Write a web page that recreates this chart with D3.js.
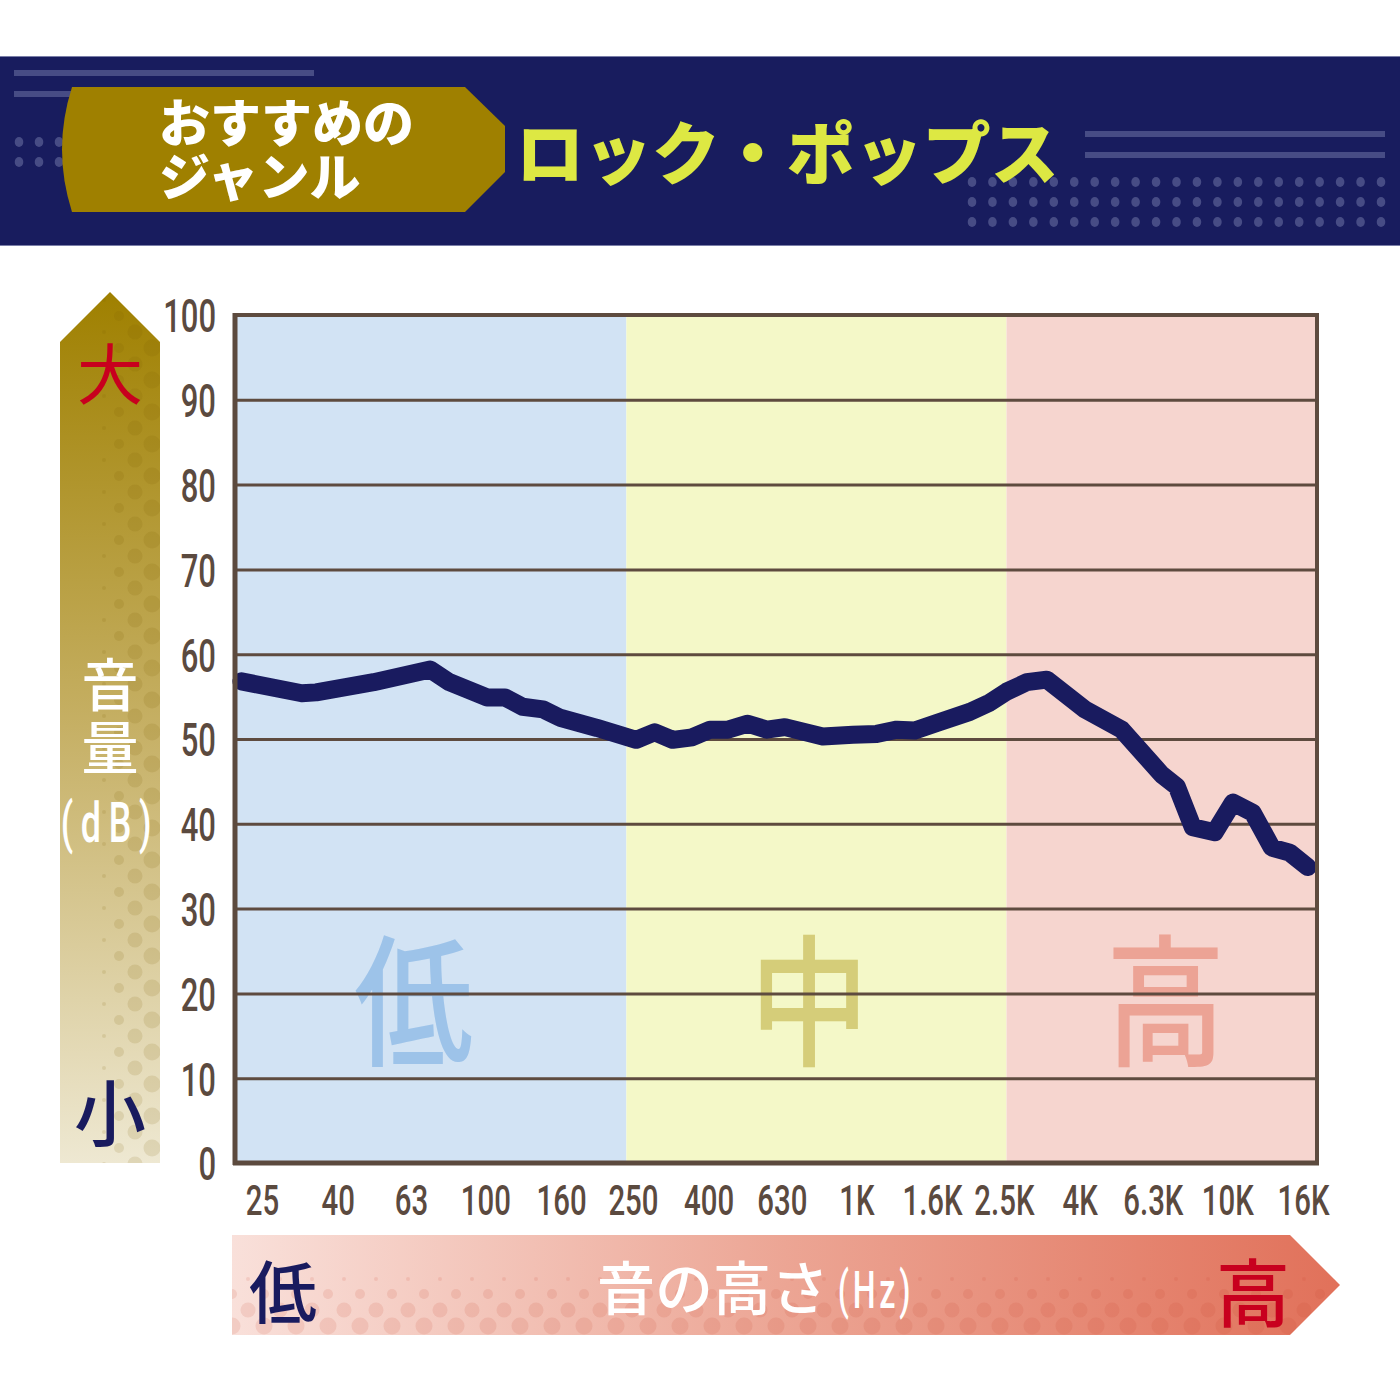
<!DOCTYPE html>
<html>
<head>
<meta charset="utf-8">
<script src="https://cdn.jsdelivr.net/npm/d3@7"></script>
<style>
  body { margin: 0; background: #fff; }
  svg { display: block; }
</style>
</head>
<body>
<div id="chart"></div>
<script>
// Frequency response for rock / pop
const freqHz = [22, 32, 35, 50, 71, 80, 101, 113, 126, 143, 159, 200, 255, 286, 320, 361, 403, 451, 510, 574,
  642, 812, 979, 1135, 1286, 1438, 1648, 2023, 2291, 2546, 2882, 3263, 4130, 5195, 6658, 7310, 8072, 9250,
  10350, 11710, 13180, 14730, 16470];
const levelDb = [56.8, 55.4, 55.5, 56.7, 58.2, 56.7, 54.9, 54.9, 53.8, 53.5, 52.5, 51.3, 49.9, 50.8, 49.9, 50.2,
  51.1, 51.1, 51.8, 51.1, 51.4, 50.3, 50.5, 50.6, 51.1, 51.0, 51.9, 53.2, 54.3, 55.6, 56.7, 57.0, 53.5, 51.1,
  45.8, 44.4, 39.6, 39.0, 42.5, 41.3, 37.2, 36.6, 34.9];

// Axis ticks
const yTicks = [0, 10, 20, 30, 40, 50, 60, 70, 80, 90, 100];
const xTickHz = [25, 40, 63, 100, 160, 250, 400, 630, 1000, 1600, 2500, 4000, 6300, 10000, 16000];
const xTickLabels = ["25", "40", "63", "100", "160", "250", "400", "630", "1K", "1.6K", "2.5K", "4K", "6.3K", "10K", "16K"];

// Frequency zones (low / mid / high)
const zoneNames = ["低", "中", "高"];
const zoneEdgesHz = [240, 2540];

// Texts
const tagLines = ["おすすめの", "ジャンル"];
const genreTitle = "ロック・ポップス";
const volumeLabel = "音量";

const W = 1400, H = 1400;
const plot = { left: 237, right: 1317, top: 315, bottom: 1163 };

const svg = d3.select("#chart").append("svg")
  .attr("width", W)
  .attr("height", H)
  .style("font-family", "'Noto Sans CJK JP', sans-serif");

const defs = svg.append("defs");

// Scales
const x = d3.scaleLog().domain([25, 16000]).range([262, 1303]);
const y = d3.scaleLinear().domain([0, 100]).range([plot.bottom, plot.top]);

// ---------- Header ----------
const header = svg.append("g").attr("class", "header");
header.append("rect").attr("x", 0).attr("y", 57).attr("width", W).attr("height", 189).attr("fill", "#181c5e");
header.append("rect").attr("x", 0).attr("y", 56).attr("width", W).attr("height", 1).attr("fill", "#7a7ea8");
header.append("rect").attr("x", 0).attr("y", 245).attr("width", W).attr("height", 1).attr("fill", "#7a7ea8");

const deco = "#474c85";
header.append("rect").attr("x", 14).attr("y", 70).attr("width", 300).attr("height", 6).attr("fill", deco);
header.append("rect").attr("x", 14).attr("y", 91).attr("width", 70).attr("height", 6).attr("fill", deco);
header.append("rect").attr("x", 1085).attr("y", 131).attr("width", 300).attr("height", 6).attr("fill", deco);
header.append("rect").attr("x", 1085).attr("y", 152).attr("width", 300).attr("height", 6).attr("fill", deco);

// dot grids
const leftDots = [];
[142, 162].forEach(cy => [19, 39, 59].forEach(cx => leftDots.push([cx, cy])));
const rightDots = [];
[182, 202, 222].forEach(cy => d3.range(21).forEach(i => rightDots.push([972 + i * 20.45, cy])));
header.selectAll("ellipse.dot").data(leftDots.concat(rightDots)).join("ellipse")
  .attr("class", "dot")
  .attr("cx", d => d[0]).attr("cy", d => d[1])
  .attr("rx", 4.3).attr("ry", 5)
  .attr("fill", deco);

// gold tag
header.append("path")
  .attr("d", "M72,87 L465,87 L505,126 L505,172 L465,212 L72,212 Q52,149.5 72,87 Z")
  .attr("fill", "#9f8000");

header.append("text")
  .attr("fill", "#fff")
  .attr("font-size", 51)
  .attr("font-weight", 900)
  .selectAll("tspan").data(tagLines).join("tspan")
  .attr("x", 159)
  .attr("y", (d, i) => 142 + i * 54)
  .text(d => d);

header.append("text")
  .attr("x", 516)
  .attr("y", 179)
  .attr("fill", "#dde843")
  .attr("font-size", 68)
  .attr("font-weight", 900)
  .text(genreTitle);

// ---------- Zones ----------
const zoneBounds = [plot.left, x(zoneEdgesHz[0]), x(zoneEdgesHz[1]), plot.right];
const zoneFill = ["#d2e3f4", "#f4f8c8", "#f6d5cf"];
const zoneInk = ["#9dc3e9", "#d5cd79", "#eca395"];
const zones = svg.append("g").attr("class", "zones");
zones.selectAll("rect").data(zoneNames).join("rect")
  .attr("x", (d, i) => zoneBounds[i])
  .attr("y", plot.top)
  .attr("width", (d, i) => zoneBounds[i + 1] - zoneBounds[i])
  .attr("height", plot.bottom - plot.top)
  .attr("fill", (d, i) => zoneFill[i]);

zones.selectAll("text").data(zoneNames).join("text")
  .attr("transform", (d, i) =>
    `translate(${(zoneBounds[i] + zoneBounds[i + 1]) / 2 + [-18, -7, 4][i]},993) scale(0.84,1)`)
  .attr("text-anchor", "middle")
  .attr("dominant-baseline", "central")
  .attr("font-size", 142)
  .attr("font-weight", 500)
  .attr("fill", (d, i) => zoneInk[i])
  .text(d => d);

// ---------- Grid ----------
svg.append("g")
  .attr("class", "grid")
  .attr("transform", `translate(${plot.left},0)`)
  .call(d3.axisLeft(y).tickValues(yTicks.slice(1, -1)).tickSize(-(plot.right - plot.left)).tickFormat(""))
  .call(g => g.select(".domain").remove())
  .call(g => g.selectAll("line").attr("stroke", "#5e4b3f").attr("stroke-width", 3));

// ---------- Line ----------
const line = d3.line()
  .x((d, i) => x(freqHz[i]))
  .y(d => y(d));

svg.append("path")
  .datum(levelDb)
  .attr("fill", "none")
  .attr("stroke", "#191b5f")
  .attr("stroke-width", 18)
  .attr("stroke-linejoin", "round")
  .attr("stroke-linecap", "round")
  .attr("d", line);

// ---------- Frame ----------
const frame = svg.append("g").attr("class", "frame");
frame.append("rect")
  .attr("x", plot.left - 2).attr("y", plot.top)
  .attr("width", plot.right - plot.left + 2).attr("height", plot.bottom - plot.top)
  .attr("fill", "none").attr("stroke", "#5e4b3f").attr("stroke-width", 4);
frame.append("line")
  .attr("x1", 235).attr("x2", 235).attr("y1", plot.top - 2).attr("y2", plot.bottom + 2)
  .attr("stroke", "#5c4a3e").attr("stroke-width", 5);
frame.append("line")
  .attr("x1", 233).attr("x2", plot.right + 2).attr("y1", plot.bottom).attr("y2", plot.bottom)
  .attr("stroke", "#5c4a3e").attr("stroke-width", 5);

// ---------- Axis labels ----------
const sx = 0.66;
svg.append("g")
  .attr("class", "y-axis")
  .attr("transform", `translate(${plot.left},0)`)
  .call(d3.axisLeft(y).tickValues(yTicks).tickSize(0).tickPadding(0))
  .call(g => g.select(".domain").remove())
  .call(g => g.selectAll("text")
    .attr("x", -21 / sx)
    .attr("dy", "0.36em")
    .attr("transform", `scale(${sx},1)`)
    .attr("fill", "#5b4a3f")
    .attr("font-family", "Roboto, sans-serif")
    .attr("font-weight", 500)
    .attr("font-size", 47));

svg.append("g")
  .attr("class", "x-axis")
  .attr("transform", `translate(0,${plot.bottom})`)
  .call(d3.axisBottom(x).tickValues(xTickHz).tickSize(0).tickPadding(0)
    .tickFormat((d, i) => xTickLabels[i]))
  .call(g => g.select(".domain").remove())
  .call(g => g.selectAll("text")
    .attr("y", 52).attr("dy", 0)
    .attr("transform", "scale(0.7,1)")
    .attr("fill", "#5b4a3f")
    .attr("font-family", "Roboto, sans-serif")
    .attr("font-weight", 500)
    .attr("font-size", 42));

// ---------- Y arrow (volume) ----------
const yGrad = defs.append("linearGradient").attr("id", "yGrad")
  .attr("x1", 0).attr("y1", 0).attr("x2", 0).attr("y2", 1);
yGrad.append("stop").attr("offset", 0).attr("stop-color", "#9f8000");
yGrad.append("stop").attr("offset", 0.5).attr("stop-color", "#c6b065");
yGrad.append("stop").attr("offset", 1).attr("stop-color", "#eee8d2");

const yArrowPath = "M60,342 L110,292 L160,342 L160,1163 L60,1163 Z";
defs.append("clipPath").attr("id", "yClip").append("path").attr("d", yArrowPath);

const yArrow = svg.append("g").attr("class", "y-arrow");
yArrow.append("path").attr("d", yArrowPath).attr("fill", "url(#yGrad)");

const yDotCols = [[104, 2, 0], [119, 5, 16], [135, 7.5, 0], [152, 8.5, 16]];
const yDots = [];
yDotCols.forEach(c => d3.range(0, 30).forEach(k => yDots.push([c[0], 300 + c[2] + k * 32, c[1]])));
yArrow.append("g").attr("clip-path", "url(#yClip)")
  .selectAll("circle").data(yDots).join("circle")
  .attr("cx", d => d[0]).attr("cy", d => d[1]).attr("r", d => d[2])
  .attr("fill", "#7a5f00").attr("fill-opacity", 0.13);

yArrow.append("text")
  .attr("x", 110).attr("y", 370)
  .attr("text-anchor", "middle").attr("dominant-baseline", "central")
  .attr("font-size", 66).attr("font-weight", 400)
  .attr("fill", "#c8001e").text("大");
yArrow.append("text")
  .attr("x", 110).attr("y", 1108)
  .attr("text-anchor", "middle").attr("dominant-baseline", "central")
  .attr("font-size", 72).attr("font-weight", 500)
  .attr("fill", "#191b5f").text("小");
yArrow.append("text")
  .attr("x", 110).attr("y", 719)
  .attr("writing-mode", "vertical-rl")
  .attr("text-anchor", "middle")
  .attr("letter-spacing", 6)
  .attr("font-size", 57).attr("font-weight", 500)
  .attr("fill", "#fff")
  .text(volumeLabel);
yArrow.append("text")
  .attr("transform", "translate(110,842) scale(0.64,1)")
  .attr("text-anchor", "middle")
  .attr("font-family", "Roboto, sans-serif")
  .attr("font-size", 56).attr("font-weight", 500)
  .attr("letter-spacing", 12)
  .attr("fill", "#fff").text("(dB)");

// ---------- X arrow (pitch) ----------
const xGrad = defs.append("linearGradient").attr("id", "xGrad")
  .attr("x1", 0).attr("y1", 0).attr("x2", 1).attr("y2", 0);
xGrad.append("stop").attr("offset", 0).attr("stop-color", "#f9e0da");
xGrad.append("stop").attr("offset", 0.5).attr("stop-color", "#eca594");
xGrad.append("stop").attr("offset", 1).attr("stop-color", "#e1715a");

const xArrowPath = "M232,1235 L1290,1235 L1340,1285 L1290,1335 L232,1335 Z";
defs.append("clipPath").attr("id", "xClip").append("path").attr("d", xArrowPath);

const xArrow = svg.append("g").attr("class", "x-arrow");
xArrow.append("path").attr("d", xArrowPath).attr("fill", "url(#xGrad)");

const xDotRows = [[1279, 2, 16], [1294, 5, 0], [1310, 7.5, 16], [1326, 8.5, 0]];
const xDots = [];
xDotRows.forEach(r => d3.range(0, 36).forEach(k => xDots.push([232 + r[2] + k * 32, r[0], r[1]])));
xArrow.append("g").attr("clip-path", "url(#xClip)")
  .selectAll("circle").data(xDots).join("circle")
  .attr("cx", d => d[0]).attr("cy", d => d[1]).attr("r", d => d[2])
  .attr("fill", "#c8452d").attr("fill-opacity", 0.13);

xArrow.append("text")
  .attr("x", 283).attr("y", 1288)
  .attr("text-anchor", "middle").attr("dominant-baseline", "central")
  .attr("font-size", 68).attr("font-weight", 500)
  .attr("fill", "#191b5f").text("低");
xArrow.append("text")
  .attr("x", 1253).attr("y", 1288)
  .attr("text-anchor", "middle").attr("dominant-baseline", "central")
  .attr("font-size", 74).attr("font-weight", 500)
  .attr("fill", "#c8001e").text("高");
xArrow.append("text")
  .attr("x", 597).attr("y", 1310)
  .attr("font-size", 58).attr("font-weight", 500)
  .attr("fill", "#fff").text("音の高さ");
xArrow.append("text")
  .attr("transform", "translate(876,1308) scale(0.62,1)")
  .attr("text-anchor", "middle")
  .attr("font-family", "Roboto, sans-serif")
  .attr("font-size", 52).attr("font-weight", 500)
  .attr("letter-spacing", 6)
  .attr("fill", "#fff").text("(Hz)");
</script>
</body>
</html>
